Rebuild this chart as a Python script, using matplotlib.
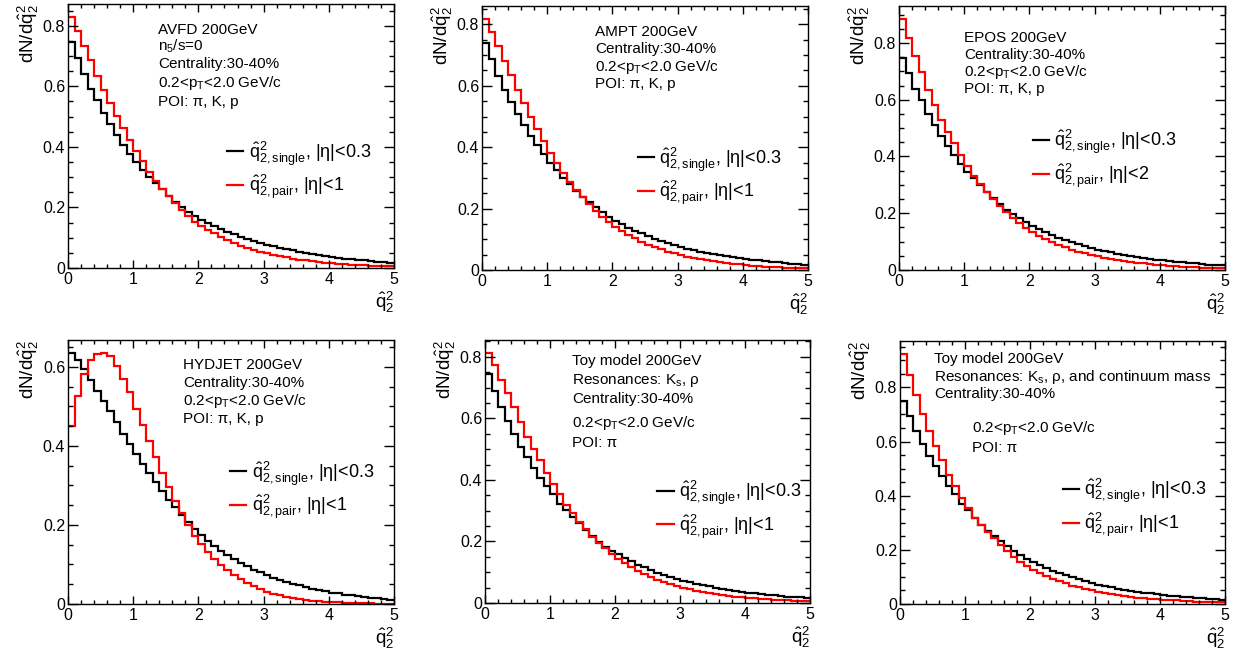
import numpy as np
import matplotlib
matplotlib.use("Agg")
import matplotlib.pyplot as plt
from matplotlib.ticker import MultipleLocator, FuncFormatter

plt.rcParams["font.family"] = ["Liberation Sans", "DejaVu Sans"]
plt.rcParams["mathtext.fontset"] = "custom"
plt.rcParams["mathtext.rm"] = "Liberation Sans"
plt.rcParams["mathtext.it"] = "Liberation Sans"
plt.rcParams["mathtext.bf"] = "Liberation Sans:bold"
plt.rcParams["mathtext.sf"] = "Liberation Sans"

# 50 bins of width 0.1 on q2 in [0, 5]
bin_edges = np.linspace(0, 5, 51)

avfd_single = [0.745, 0.693, 0.641, 0.592, 0.553, 0.512, 0.475, 0.438, 0.405, 0.376,
               0.351, 0.323, 0.301, 0.279, 0.260, 0.238, 0.219, 0.203, 0.186, 0.171,
               0.159, 0.148, 0.138, 0.128, 0.119, 0.111, 0.103, 0.096, 0.089, 0.083,
               0.077, 0.072, 0.067, 0.062, 0.058, 0.054, 0.050, 0.046, 0.043, 0.040,
               0.037, 0.034, 0.031, 0.029, 0.027, 0.025, 0.023, 0.021, 0.019, 0.017]
avfd_pair = [0.830, 0.781, 0.734, 0.687, 0.633, 0.588, 0.545, 0.501, 0.462, 0.423,
             0.385, 0.352, 0.318, 0.288, 0.262, 0.238, 0.214, 0.192, 0.172, 0.153,
             0.139, 0.126, 0.115, 0.102, 0.091, 0.082, 0.073, 0.066, 0.059, 0.053,
             0.048, 0.043, 0.039, 0.035, 0.031, 0.028, 0.025, 0.022, 0.020, 0.018,
             0.016, 0.014, 0.013, 0.011, 0.010, 0.009, 0.008, 0.007, 0.006, 0.006]

ampt_single = [0.738, 0.687, 0.633, 0.587, 0.547, 0.509, 0.471, 0.436, 0.406, 0.377,
               0.348, 0.325, 0.300, 0.279, 0.258, 0.239, 0.221, 0.204, 0.188, 0.174,
               0.161, 0.149, 0.138, 0.128, 0.119, 0.110, 0.102, 0.095, 0.088, 0.082,
               0.076, 0.070, 0.065, 0.060, 0.056, 0.052, 0.048, 0.045, 0.042, 0.039,
               0.036, 0.033, 0.031, 0.029, 0.027, 0.025, 0.023, 0.021, 0.019, 0.017]
ampt_pair = [0.819, 0.776, 0.731, 0.682, 0.636, 0.587, 0.543, 0.498, 0.458, 0.420,
             0.381, 0.349, 0.316, 0.287, 0.260, 0.238, 0.214, 0.193, 0.174, 0.156,
             0.141, 0.127, 0.115, 0.103, 0.092, 0.083, 0.075, 0.067, 0.060, 0.054,
             0.048, 0.043, 0.039, 0.035, 0.031, 0.028, 0.025, 0.022, 0.020, 0.018,
             0.016, 0.014, 0.013, 0.011, 0.010, 0.009, 0.008, 0.007, 0.006, 0.005]

epos_single = [0.748, 0.694, 0.639, 0.600, 0.551, 0.510, 0.472, 0.436, 0.405, 0.375,
               0.346, 0.323, 0.299, 0.274, 0.253, 0.233, 0.213, 0.197, 0.182, 0.168,
               0.155, 0.144, 0.133, 0.123, 0.114, 0.106, 0.098, 0.091, 0.084, 0.078,
               0.072, 0.067, 0.062, 0.057, 0.053, 0.049, 0.046, 0.042, 0.039, 0.036,
               0.034, 0.031, 0.029, 0.027, 0.025, 0.023, 0.021, 0.019, 0.018, 0.016]
epos_pair = [0.886, 0.818, 0.753, 0.696, 0.636, 0.581, 0.530, 0.485, 0.446, 0.405,
             0.367, 0.331, 0.303, 0.274, 0.249, 0.225, 0.203, 0.182, 0.164, 0.147,
             0.133, 0.120, 0.108, 0.098, 0.088, 0.080, 0.072, 0.065, 0.059, 0.053,
             0.048, 0.043, 0.039, 0.035, 0.031, 0.028, 0.025, 0.023, 0.020, 0.018,
             0.016, 0.015, 0.013, 0.012, 0.010, 0.009, 0.008, 0.007, 0.007, 0.006]

hydjet_single = [0.636, 0.617, 0.594, 0.566, 0.539, 0.514, 0.487, 0.460, 0.430, 0.405,
                 0.380, 0.355, 0.331, 0.308, 0.286, 0.264, 0.245, 0.226, 0.208, 0.190,
                 0.174, 0.160, 0.146, 0.135, 0.124, 0.113, 0.103, 0.095, 0.087, 0.080,
                 0.073, 0.067, 0.061, 0.056, 0.051, 0.047, 0.043, 0.039, 0.036, 0.033,
                 0.029, 0.027, 0.024, 0.022, 0.020, 0.018, 0.016, 0.014, 0.012, 0.010]
hydjet_pair = [0.449, 0.527, 0.583, 0.617, 0.632, 0.634, 0.628, 0.603, 0.569, 0.535,
               0.493, 0.453, 0.413, 0.371, 0.331, 0.296, 0.261, 0.229, 0.199, 0.172,
               0.153, 0.132, 0.113, 0.098, 0.086, 0.073, 0.063, 0.054, 0.045, 0.037,
               0.031, 0.026, 0.022, 0.018, 0.015, 0.012, 0.010, 0.008, 0.007, 0.006,
               0.005, 0.004, 0.003, 0.003, 0.002, 0.002, 0.002, 0.001, 0.001, 0.001]

toy_single = [0.744, 0.690, 0.638, 0.593, 0.548, 0.507, 0.474, 0.440, 0.407, 0.379,
              0.354, 0.323, 0.302, 0.278, 0.259, 0.237, 0.218, 0.199, 0.183, 0.170,
              0.158, 0.146, 0.135, 0.125, 0.116, 0.107, 0.099, 0.092, 0.085, 0.079,
              0.073, 0.068, 0.063, 0.058, 0.054, 0.050, 0.046, 0.043, 0.040, 0.037,
              0.034, 0.032, 0.029, 0.027, 0.025, 0.023, 0.021, 0.019, 0.018, 0.016]
toy_pair = [0.814, 0.773, 0.725, 0.681, 0.636, 0.588, 0.539, 0.501, 0.464, 0.423,
            0.386, 0.354, 0.318, 0.291, 0.264, 0.239, 0.216, 0.196, 0.178, 0.160,
            0.143, 0.129, 0.117, 0.105, 0.094, 0.085, 0.076, 0.068, 0.061, 0.055,
            0.049, 0.044, 0.040, 0.036, 0.032, 0.029, 0.026, 0.023, 0.021, 0.019,
            0.017, 0.015, 0.013, 0.012, 0.011, 0.010, 0.009, 0.008, 0.007, 0.006]

toycm_single = [0.748, 0.696, 0.640, 0.591, 0.548, 0.508, 0.472, 0.436, 0.405, 0.371,
                0.348, 0.319, 0.293, 0.270, 0.250, 0.231, 0.214, 0.197, 0.182, 0.168,
                0.156, 0.144, 0.133, 0.123, 0.114, 0.106, 0.098, 0.091, 0.084, 0.078,
                0.072, 0.067, 0.062, 0.057, 0.053, 0.049, 0.046, 0.042, 0.039, 0.036,
                0.034, 0.031, 0.029, 0.027, 0.025, 0.023, 0.021, 0.019, 0.018, 0.016]
toycm_pair = [0.925, 0.847, 0.773, 0.702, 0.640, 0.583, 0.530, 0.475, 0.436, 0.391,
              0.355, 0.318, 0.291, 0.266, 0.242, 0.217, 0.195, 0.174, 0.156, 0.140,
              0.126, 0.114, 0.103, 0.093, 0.084, 0.076, 0.068, 0.061, 0.055, 0.050,
              0.045, 0.040, 0.036, 0.033, 0.030, 0.027, 0.024, 0.022, 0.020, 0.018,
              0.016, 0.014, 0.013, 0.012, 0.010, 0.009, 0.008, 0.008, 0.007, 0.006]

PT = "0.2<p$_{T}$<2.0 GeV/c"
CENT = "Centrality:30-40%"

# (axes box in px: left, top, right, bottom), series, annotation lines, legend anchor, pair eta label
panels = [
    dict(box=(68, 4, 394, 268), single=avfd_single, pair=avfd_pair, eta="1",
         text=[(0.276, 0.888, "AVFD 200GeV"), (0.276, 0.823, "n$_{5}$/s=0"),
               (0.276, 0.759, CENT), (0.276, 0.687, PT), (0.276, 0.614, "POI: π, K, p")],
         leg=(0.488, 0.37)),
    dict(box=(482, 6, 808, 270), single=ampt_single, pair=ampt_pair, eta="1",
         text=[(0.347, 0.886, "AMPT 200GeV"), (0.347, 0.821, CENT),
               (0.347, 0.755, PT), (0.347, 0.689, "POI: π, K, p")],
         leg=(0.478, 0.355)),
    dict(box=(899, 6, 1225, 270), single=epos_single, pair=epos_pair, eta="2",
         text=[(0.2, 0.865, "EPOS 200GeV"), (0.2, 0.799, CENT),
               (0.2, 0.735, PT), (0.2, 0.669, "POI: π, K, p")],
         leg=(0.41, 0.42)),
    dict(box=(68, 340, 394, 604), single=hydjet_single, pair=hydjet_pair, eta="1",
         text=[(0.353, 0.889, "HYDJET 200GeV"), (0.353, 0.821, CENT),
               (0.353, 0.754, PT), (0.353, 0.684, "POI: π, K, p")],
         leg=(0.497, 0.43)),
    dict(box=(485, 340, 810, 603), single=toy_single, pair=toy_pair, eta="1",
         text=[(0.268, 0.905, "Toy model 200GeV"), (0.268, 0.833, "Resonances: K$_{s}$, ρ"),
               (0.268, 0.762, CENT), (0.268, 0.668, PT), (0.268, 0.592, "POI: π")],
         leg=(0.53, 0.355)),
    dict(box=(900, 341, 1225, 604), single=toycm_single, pair=toycm_pair, eta="1",
         text=[(0.105, 0.917, "Toy model 200GeV"),
               (0.105, 0.849, "Resonances: K$_{s}$, ρ, and continuum mass"),
               (0.105, 0.782, CENT), (0.22, 0.655, PT), (0.22, 0.579, "POI: π")],
         leg=(0.50, 0.365)),
]

W, H = 1242, 658
fig = plt.figure(figsize=(W / 100, H / 100), dpi=100)

for p in panels:
    l, t, r, b = p["box"]
    ax = fig.add_axes([l / W, 1 - b / H, (r - l) / W, (b - t) / H])
    ax.stairs(p["single"], bin_edges, color="black", lw=1.6, baseline=None,
              label=r"$\hat{q}^{2}_{2,\mathrm{single}}$, |η|<0.3")
    ax.stairs(p["pair"], bin_edges, color="#ff0000", lw=1.6, baseline=None,
              label=r"$\hat{q}^{2}_{2,\mathrm{pair}}$, |η|<" + p["eta"])
    ymax = 1.05 * max(max(p["single"]), max(p["pair"]))
    ax.set_xlim(0, 5)
    ax.set_ylim(0, ymax)

    ax.xaxis.set_major_locator(MultipleLocator(1))
    ax.xaxis.set_minor_locator(MultipleLocator(0.2))
    ax.yaxis.set_major_locator(MultipleLocator(0.2))
    ax.yaxis.set_minor_locator(MultipleLocator(0.05))
    fmt = FuncFormatter(lambda v, pos: "%g" % round(v, 3))
    ax.xaxis.set_major_formatter(fmt)
    ax.yaxis.set_major_formatter(fmt)
    ax.tick_params(which="both", direction="in", top=True, right=True,
                   labelsize=11.5, width=1)
    ax.tick_params(axis="y", which="major", length=7, pad=2)
    ax.tick_params(axis="y", which="minor", length=3.5)
    ax.tick_params(axis="x", which="major", length=6, pad=3)
    ax.tick_params(axis="x", which="minor", length=3)
    for s in ax.spines.values():
        s.set_linewidth(1)

    ax.set_ylabel(r"dN/d$\hat{q}^{2}_{2}$", loc="top", fontsize=13.5, labelpad=1)
    ax.set_xlabel(r"$\hat{q}^{2}_{2}$", loc="right", fontsize=13.5, labelpad=2)

    for x, y, s in p["text"]:
        ax.text(x, y, s, transform=ax.transAxes, fontsize=11, va="baseline", ha="left")

    ax.legend(loc="center left", bbox_to_anchor=p["leg"], frameon=False,
              fontsize=13, handlelength=0.9, handletextpad=0.3, labelspacing=0.3,
              borderpad=0, borderaxespad=0)

fig.savefig("out.png", dpi=100)
